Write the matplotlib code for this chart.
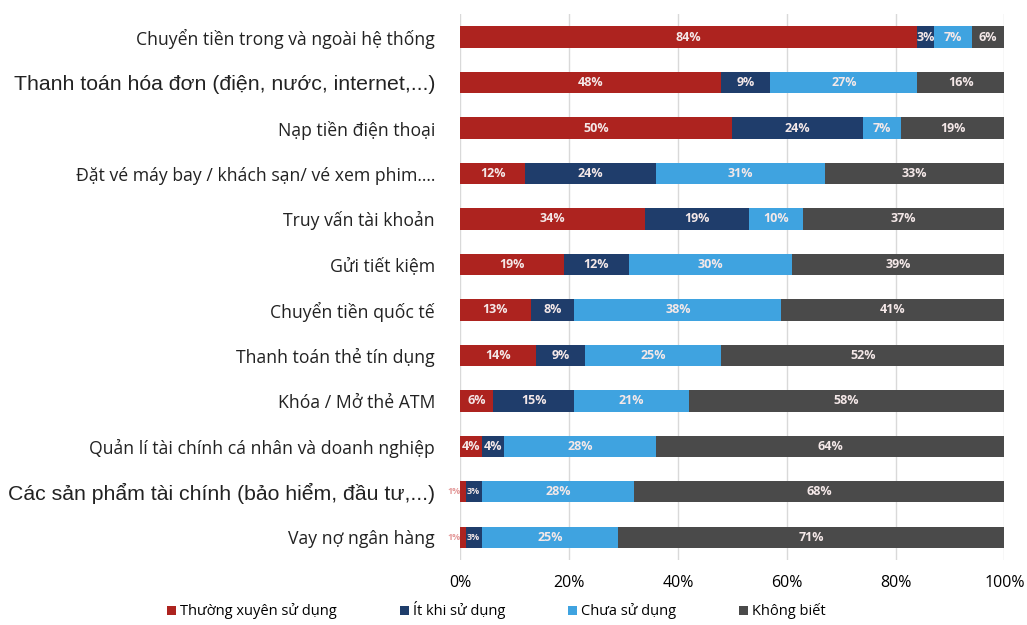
import matplotlib
matplotlib.use("Agg")
import matplotlib.pyplot as plt
import numpy as np

categories = [
    "Chuyển tiền trong và ngoài hệ thống",
    "Thanh toán hóa đơn (điện, nước, internet,...)",
    "Nạp tiền điện thoại",
    "Đặt vé máy bay / khách sạn/ vé xem phim....",
    "Truy vấn tài khoản",
    "Gửi tiết kiệm",
    "Chuyển tiền quốc tế",
    "Thanh toán thẻ tín dụng",
    "Khóa / Mở thẻ ATM",
    "Quản lí tài chính cá nhân và doanh nghiệp",
    "Các sản phẩm tài chính (bảo hiểm, đầu tư,...)",
    "Vay nợ ngân hàng",
]
thuong_xuyen = [84, 48, 50, 12, 34, 19, 13, 14, 6, 4, 1, 1]
it_khi = [3, 9, 24, 24, 19, 12, 8, 9, 15, 4, 3, 3]
chua_su_dung = [7, 27, 7, 31, 10, 30, 38, 25, 21, 28, 28, 25]
khong_biet = [6, 16, 19, 33, 37, 39, 41, 52, 58, 64, 68, 71]

series_names = ["Thường xuyên sử dụng", "Ít khi sử dụng", "Chưa sử dụng", "Không biết"]
colors = ["#AD231F", "#1F3D6B", "#3FA3E0", "#4A4A4A"]
big_labels = {1, 10}  # hai nhãn in chữ to hơn như ảnh gốc

fig = plt.figure(figsize=(10.27, 6.25), dpi=100)
ax = fig.add_axes([0.448, 0.104, 0.530, 0.873])

y = np.arange(len(categories))
left = np.zeros(len(categories))
data = [thuong_xuyen, it_khi, chua_su_dung, khong_biet]
for vals, name, col in zip(data, series_names, colors):
    vals = np.array(vals, dtype=float)
    ax.barh(y, vals, left=left, height=0.47, color=col, label=name, zorder=3)
    for yi, (l, v) in enumerate(zip(left, vals)):
        x = l + v / 2
        fs = 9
        tcol = "#F4E8E8"
        if v < 4 and l < 10:
            # ô rất hẹp ở đầu thanh: chữ nhỏ, lệch trái cho đỡ chồng
            fs = 6.5
            if v < 2:
                x -= 1.6
                tcol = "#E49A9A"
        ax.text(x, yi, f"{int(v)}%", ha="center", va="center",
                color=tcol, fontsize=fs, fontweight="bold",
                family="Open Sans", zorder=4, clip_on=False)
    left += vals

ax.set_xlim(0, 100)
ax.set_ylim(len(categories) - 0.5, -0.5)
ax.set_xticks(np.arange(0, 101, 20))
ax.set_xticklabels([f"{t}%" for t in range(0, 101, 20)], family="Open Sans", fontsize=11.5)
ax.set_yticks(y)
ax.set_yticklabels(categories)
for i, lab in enumerate(ax.get_yticklabels()):
    if i in big_labels:
        lab.set_family("Liberation Sans")
        lab.set_fontsize(15.3)
    else:
        lab.set_family("Open Sans")
        lab.set_fontsize(12.7)
    lab.set_color("#222222")
ax.tick_params(axis="both", length=0)
ax.tick_params(axis="y", pad=18)
ax.tick_params(axis="x", pad=11)
ax.grid(axis="x", color="#D9D9D9", lw=1, zorder=0)
for s in ax.spines.values():
    s.set_visible(False)

fig.legend(loc="lower left", bbox_to_anchor=(0.150, -0.012), ncol=4, frameon=False,
           handlelength=0.6, handleheight=0.6, handletextpad=0.3, columnspacing=4.3,
           prop={"family": "Open Sans", "size": 10.5})

fig.savefig("out.png", dpi=100)
